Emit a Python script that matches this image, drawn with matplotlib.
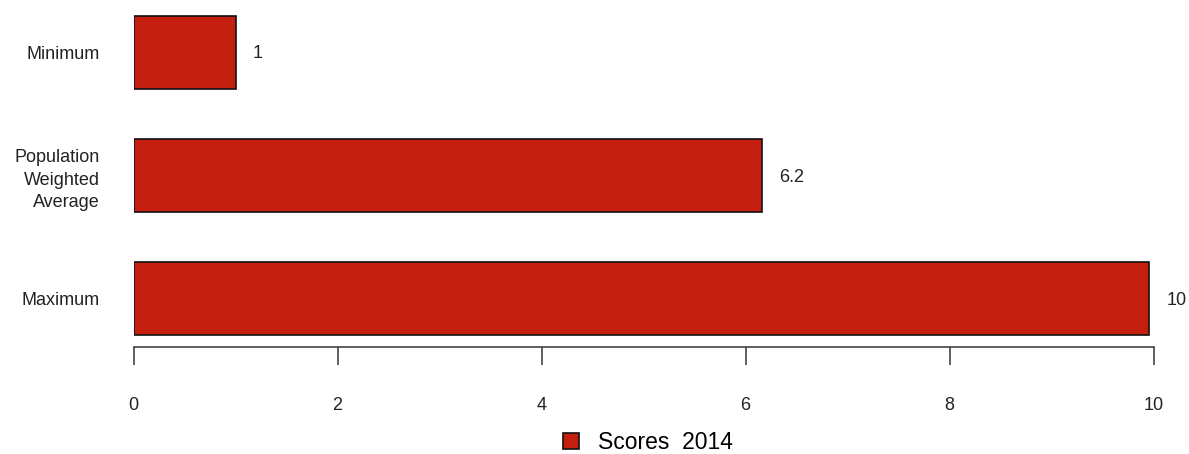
import matplotlib
matplotlib.use("Agg")
import matplotlib.pyplot as plt
from matplotlib.patches import Patch
import numpy as np

categories = ["Minimum", "Population\nWeighted\nAverage", "Maximum"]
scores = [1.0, 6.16, 9.96]
series_name = "Scores  2014"
xticks = [0, 2, 4, 6, 8, 10]

bar_color = "#C51F10"
plt.rcParams['font.family'] = ['Liberation Sans', 'DejaVu Sans']

W, H = 1189, 454
fig = plt.figure(figsize=(W / 100, H / 100), dpi=100)

left_px, right_px = 133.5, 1153.5
top_px, bottom_px = 2.9, 347.3
ax = fig.add_axes([left_px / W, 1 - bottom_px / H,
                   (right_px - left_px) / W, (bottom_px - top_px) / H])

n = len(categories)
ypos = np.arange(n)[::-1]  # first category at top
ax.barh(ypos, scores, height=0.59, color=bar_color, edgecolor="#111111",
        linewidth=1.2, zorder=2)


def fmt(v):
    r = round(v, 1)
    return ("%d" % r) if abs(r - round(r)) < 1e-9 else ("%.1f" % r)


for y, v in zip(ypos, scores):
    ax.annotate(fmt(v), xy=(v, y), xytext=(12.5, -1.2), textcoords="offset points",
                ha="left", va="center", fontsize=13, color="#222222",
                annotation_clip=False)

ax.set_xlim(0, 10)
ax.set_ylim(-0.396, 2.4)

for s in ["left", "top", "right"]:
    ax.spines[s].set_visible(False)
ax.spines["bottom"].set_bounds(0, 10)
ax.spines["bottom"].set_linewidth(1.1)
ax.spines["bottom"].set_color("#333333")

ax.set_xticks(xticks)
ax.set_xticklabels([str(t) for t in xticks])
ax.tick_params(axis="x", direction="out", length=13, width=1.1, color="#333333",
               pad=22.5, labelsize=13, labelcolor="#222222")

ax.set_yticks(ypos)
ax.set_yticklabels(categories)
ax.tick_params(axis="y", length=0, pad=24.5, labelsize=13, labelcolor="#222222")
for lab in ax.get_yticklabels():
    lab.set_multialignment("right")
    lab.set_linespacing(1.42)

handles = [Patch(facecolor=bar_color, edgecolor="#111111", linewidth=1.2)]
fig.legend(handles, [series_name], loc="center",
           bbox_to_anchor=(648 / W, 1 - 442.5 / H), frameon=False,
           fontsize=16.5, handlelength=0.7, handleheight=0.7,
           handletextpad=0.85, borderpad=0)

fig.savefig("out.png", dpi=100)
